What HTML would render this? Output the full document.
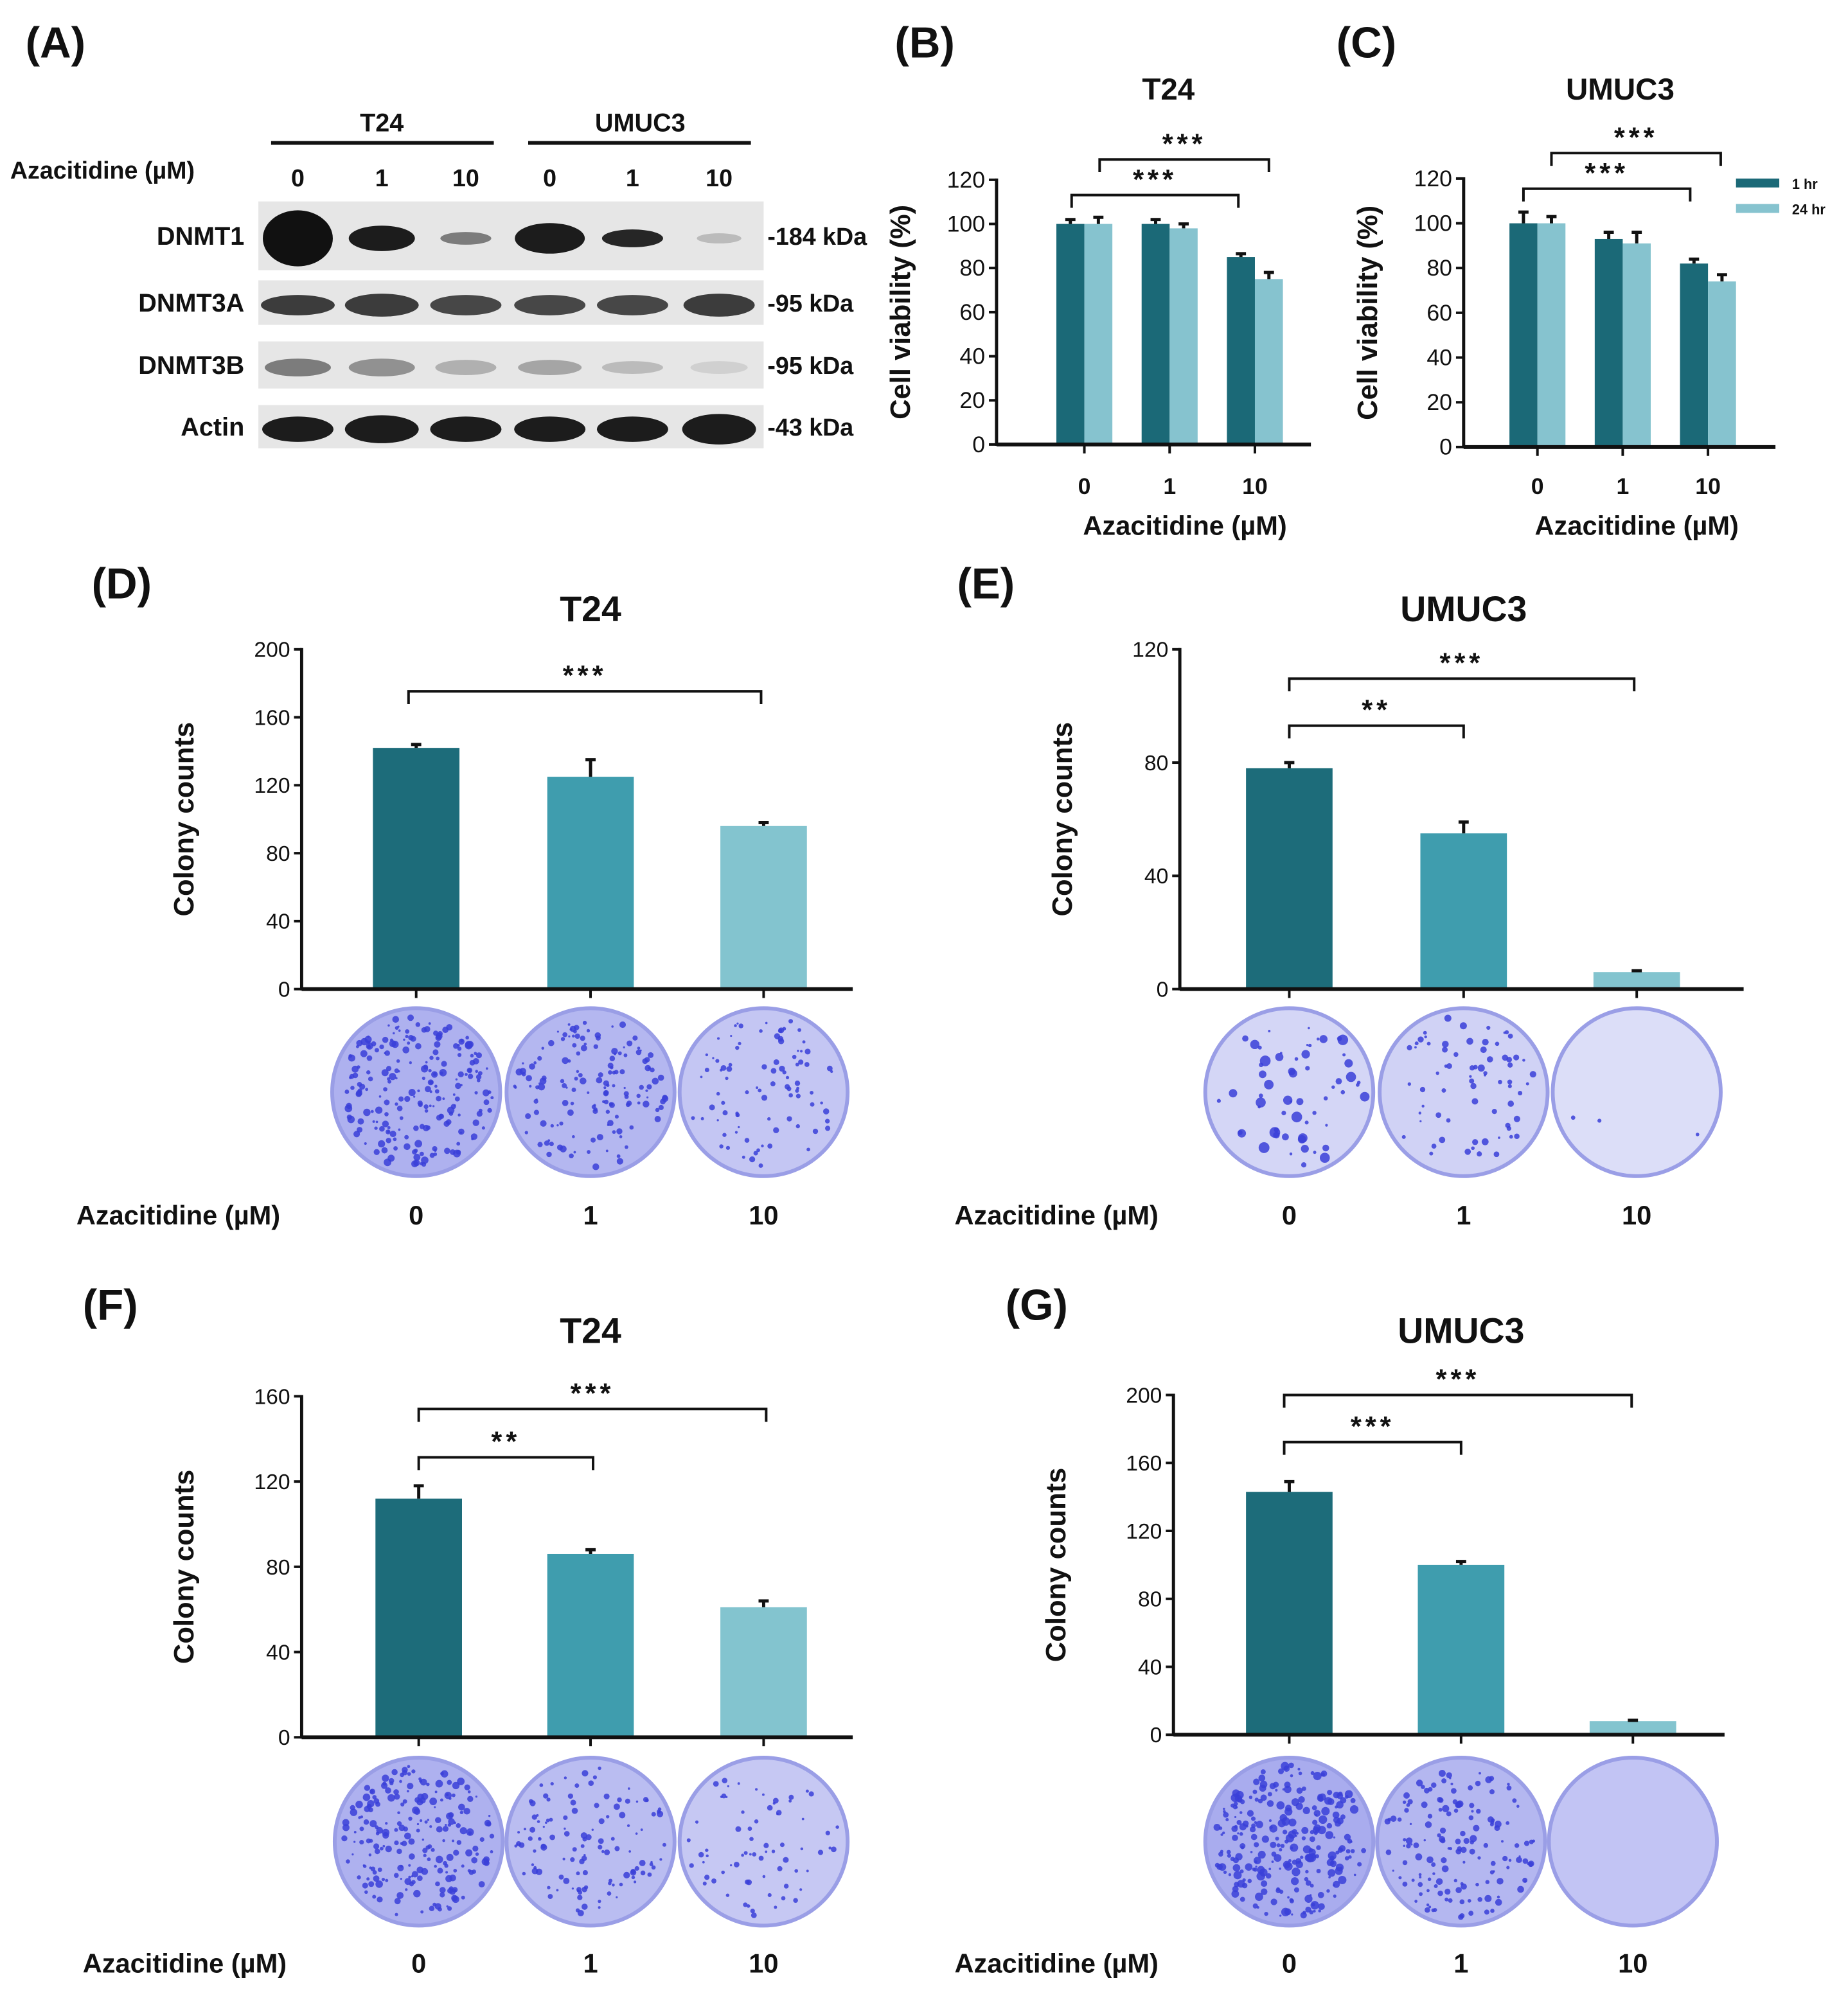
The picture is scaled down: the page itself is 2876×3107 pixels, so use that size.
<!DOCTYPE html>
<html><head><meta charset="utf-8">
<style>
html,body{margin:0;padding:0;background:#fff;}
svg{display:block;}
text{font-family:"Liberation Sans",sans-serif;fill:#111;}
</style></head>
<body>
<svg id="fig" width="2876" height="3107" viewBox="0 0 1452 1568" xmlns="http://www.w3.org/2000/svg"></svg>
<script>
// ---- Data ----
const doseLabels = ["0","1","10"];
const bTicks = [0,20,40,60,80,100,120];
const b1hr = [100,100,85];
const b1hrErr = [2,2,1.5];
const b24hr = [100,98,75];
const b24hrErr = [3,2,3];
const c1hr = [100,93,82];
const c1hrErr = [5,3,2];
const c24hr = [100,91,74];
const c24hrErr = [3,5,3];
const dTicks = [0,40,80,120,160,200];
const dVals = [142,125,96];
const dErr = [2,10,2];
const eTicks = [0,40,80,120];
const eVals = [78,55,6];
const eErr = [2,4,0.5];
const fTicks = [0,40,80,120,160];
const fVals = [112,86,61];
const fErr = [6,2,3];
const gTicks = [0,40,80,120,160,200];
const gVals = [143,100,8];
const gErr = [6,2,0.5];

const NS="http://www.w3.org/2000/svg";
const svg=document.getElementById('fig');
function mk(tag,attrs,parent){const e=document.createElementNS(NS,tag);for(const k in attrs)e.setAttribute(k,attrs[k]);(parent||svg).appendChild(e);return e;}
function txt(s,x,y,size,opts,parent){const t=mk('text',Object.assign({x:x,y:y,'font-size':size,'font-weight':'bold','text-anchor':'middle'},opts||{}),parent);t.textContent=s;return t;}

// ---- Panel labels ----
[["(A)",20,45],["(B)",703,45],["(C)",1050,45],["(D)",72,470],["(E)",752,470],["(F)",65,1037],["(G)",790,1037]].forEach(p=>{
  const t=txt(p[0],p[1],p[2],34,{'text-anchor':'start'});
  
  
});

// ---- Panel A: western blot ----
const gA=mk('g',{});


let t=txt("T24",300,103,20,{},gA);
t=txt("UMUC3",503,103,20,{},gA);
mk('line',{x1:213,y1:112,x2:388,y2:112,stroke:'#111','stroke-width':3},gA);
mk('line',{x1:415,y1:112,x2:590,y2:112,stroke:'#111','stroke-width':3},gA);
t=txt("Azacitidine (µM)",8,140,19,{'text-anchor':'start'},gA);
const laneX=[234,300,366,432,497,565];
const laneLbl=["0","1","10","0","1","10"];
laneLbl.forEach((s,i)=>{const l=txt(s,laneX[i],146,19,{},gA);});
const rows=[
 {name:"DNMT1",y:158,h:54,kda:"-184 kDa",bands:[[1,22,55],[0.95,10,52],[0.5,5,40],[0.95,12,55],[0.9,7,48],[0.2,4,35]]},
 {name:"DNMT3A",y:220,h:35,kda:"-95 kDa",bands:[[0.8,8,58],[0.8,9,58],[0.75,8,56],[0.75,8,56],[0.75,8,56],[0.8,9,56]]},
 {name:"DNMT3B",y:268,h:37,kda:"-95 kDa",bands:[[0.5,7,52],[0.4,7,52],[0.25,6,48],[0.3,6,50],[0.2,5,48],[0.1,5,45]]},
 {name:"Actin",y:318,h:34,kda:"-43 kDa",bands:[[0.95,10,56],[0.95,11,58],[0.95,10,56],[0.95,10,56],[0.95,10,56],[0.95,12,58]]}
];
rows.forEach(r=>{
  const bg=mk('rect',{x:203,y:r.y,width:397,height:r.h,fill:'#e6e6e6'},gA);
  
  const l=txt(r.name,192,r.y+r.h/2+7,20,{'text-anchor':'end'},gA);
  
  const k=txt(r.kda,603,r.y+r.h/2+7,19,{'text-anchor':'start'},gA);
  
  r.bands.forEach((b,i)=>{
    const e=mk('ellipse',{cx:laneX[i],cy:r.y+r.h/2+2,rx:b[2]/2,ry:b[1],fill:'#111','fill-opacity':b[0]},gA);
    
  });
});

// ---- Generic axis helper ----
function yScale(y0,yTop,maxV){return v=>y0-(v/maxV)*(y0-yTop);}
function drawAxes(g,x0,xEnd,y0,ys,ticks,groupX,title,ytitleX,fs){
  const ax=mk('line',{x1:x0,y1:ys(ticks[ticks.length-1])-1,x2:x0,y2:y0+1,stroke:'#111','stroke-width':2.5},g);
  
  const xa=mk('line',{x1:x0,y1:y0,x2:xEnd,y2:y0,stroke:'#111','stroke-width':3},g);
  
  ticks.forEach(v=>{
    mk('line',{x1:x0-6,y1:ys(v),x2:x0,y2:ys(v),stroke:'#111','stroke-width':2},g);
    const tl=txt(String(v),x0-9,ys(v)+6,fs,{'text-anchor':'end','font-weight':'normal'},g);
    
  });
  groupX.forEach(x=>mk('line',{x1:x,y1:y0,x2:x,y2:y0+7,stroke:'#111','stroke-width':2},g));
  const yt=txt(title,0,0,22,{transform:`translate(${ytitleX},${(ys(ticks[ticks.length-1])+y0)/2}) rotate(-90)`},g);
  
}
function bar(g,x,w,ys,v,err,color,name){
  const y0=ys(0);
  const r=mk('rect',{x:x,y:ys(v),width:w,height:y0-ys(v),fill:color},g);
  
  const eb=mk('path',{d:`M${x+w/2},${ys(v)} V${ys(v+err)} M${x+w/2-4},${ys(v+err)} H${x+w/2+4}`,stroke:'#111','stroke-width':2.5,fill:'none'},g);
  
}
function bracket(g,x1,x2,y,stars,tick){
  const p=mk('path',{d:`M${x1},${y+tick} V${y} H${x2} V${y+tick}`,stroke:'#111','stroke-width':2,fill:'none'},g);
  
  const s=txt(stars,(x1+x2)/2,y-5,22,{'letter-spacing':'3'},g);
  
}

// ---- Panels B & C ----
function viability(cfg){
  const g=mk('g',{});
  
  
  const ys=yScale(cfg.y0,cfg.yTop,120);
  const tt=txt(cfg.title,cfg.titleX,78,24,{},g);
  cfg.a.forEach((v,i)=>bar(g,cfg.gx[i]-22,22,ys,v,cfg.ae[i],'#1b6977','bar-1hr'));
  cfg.b.forEach((v,i)=>bar(g,cfg.gx[i],22,ys,v,cfg.be[i],'#86c3cf','bar-24hr'));
  drawAxes(g,cfg.x0,cfg.xEnd,cfg.y0,ys,bTicks,cfg.gx,"Cell viability (%)",cfg.x0-68,18);
  doseLabels.forEach((s,i)=>{const l=txt(s,cfg.gx[i],388,18,{},g);});
  const xt=txt("Azacitidine (µM)",cfg.titleX+13,420,21,{},g);
  cfg.br.forEach(b=>bracket(g,b[0],b[1],b[2],"***",10));
}
viability({name:'viability-chart-t24',title:'T24',titleX:918,x0:783,xEnd:1030,y0:349,yTop:141,gx:[852,919,986],a:b1hr,ae:b1hrErr,b:b24hr,be:b24hrErr,br:[[842,973,153],[864,997,125]]});
viability({name:'viability-chart-umuc3',title:'UMUC3',titleX:1273,x0:1150,xEnd:1395,y0:351,yTop:140,gx:[1208,1275,1342],a:c1hr,ae:c1hrErr,b:c24hr,be:c24hrErr,br:[[1197,1328,148],[1219,1352,120]]});
// legend
const lg=mk('g',{});


let le=mk('rect',{x:1364,y:140,width:34,height:7,fill:'#1b6977'},lg);
le=mk('rect',{x:1364,y:160,width:34,height:7,fill:'#86c3cf'},lg);
le=txt("1 hr",1408,148,11,{'text-anchor':'start'},lg);
le=txt("24 hr",1408,168,11,{'text-anchor':'start'},lg);

// ---- Colony dishes (decorative, seeded) ----
let seed=7;function rnd(){seed=(seed*16807)%2147483647;return seed/2147483647;}
function dish(g,cx,cy,r,n,fill,dotMax){
  const d=mk('circle',{cx:cx,cy:cy,r:r,fill:fill,stroke:'#9a9ee6','stroke-width':3},g);
  
  for(let i=0;i<n;i++){const a=rnd()*Math.PI*2,rr=Math.sqrt(rnd())*(r-6);
    mk('circle',{cx:cx+rr*Math.cos(a),cy:cy+rr*Math.sin(a),r:0.8+rnd()*dotMax,fill:'#3a3fd8','fill-opacity':0.85},g);}
}

// ---- Panels D-G ----
function colony(cfg){
  const g=mk('g',{});
  
  
  const maxV=cfg.ticks[cfg.ticks.length-1];
  const ys=yScale(cfg.y0,cfg.yTop,maxV);
  const tt=txt(cfg.title,cfg.gx[1],cfg.titleY,28,{},g);
  const cols=['#1d6c7a','#3f9dae','#83c4cf'];
  cfg.vals.forEach((v,i)=>bar(g,cfg.gx[i]-34,68,ys,v,cfg.err[i],cols[i],'bar-dose-'+doseLabels[i]));
  drawAxes(g,cfg.x0,cfg.xEnd,cfg.y0,ys,cfg.ticks,cfg.gx,"Colony counts",cfg.x0-85,17);
  cfg.br.forEach(b=>bracket(g,b[0],b[1],b[2],b[3],10));
  cfg.gx.forEach((x,i)=>dish(g,x,cfg.dishY,66,cfg.dots[i],cfg.dishFill[i],cfg.dotMax[i]));
  const al=txt("Azacitidine (µM)",cfg.azX,cfg.labY,21,{'text-anchor':'start'},g);
  doseLabels.forEach((s,i)=>{const l=txt(s,cfg.gx[i],cfg.labY,21,{},g);});
}
colony({name:'colony-chart-d-t24',title:'T24',titleY:488,ticks:dTicks,vals:dVals,err:dErr,x0:237,xEnd:670,y0:777,yTop:510,gx:[327,464,600],
  br:[[321,598,543,"***"]],dishY:858,dots:[220,150,90],dishFill:['#aeb1ef','#b4b7f0','#c4c6f3'],dotMax:[2.2,2,1.6],azX:60,labY:962});
colony({name:'colony-chart-e-umuc3',title:'UMUC3',titleY:488,ticks:eTicks,vals:eVals,err:eErr,x0:927,xEnd:1370,y0:777,yTop:510,gx:[1013,1150,1286],
  br:[[1013,1150,570,"**"],[1013,1284,533,"***"]],dishY:858,dots:[60,70,3],dishFill:['#d4d6f6','#d0d2f5','#dcdef8'],dotMax:[3.5,2,1],azX:750,labY:962});
colony({name:'colony-chart-f-t24',title:'T24',titleY:1055,ticks:fTicks,vals:fVals,err:fErr,x0:237,xEnd:670,y0:1365,yTop:1097,gx:[329,464,600],
  br:[[329,466,1145,"**"],[329,602,1107,"***"]],dishY:1447,dots:[220,120,70],dishFill:['#aeb1ef','#babdf1','#c6c8f3'],dotMax:[2.2,1.8,1.5],azX:65,labY:1550});
colony({name:'colony-chart-g-umuc3',title:'UMUC3',titleY:1055,ticks:gTicks,vals:gVals,err:gErr,x0:922,xEnd:1355,y0:1363,yTop:1096,gx:[1013,1148,1283],
  br:[[1009,1148,1133,"***"],[1009,1282,1096,"***"]],dishY:1447,dots:[260,150,0],dishFill:['#a9acee','#b4b7f0','#c2c4f4'],dotMax:[2.6,2,1],azX:750,labY:1550});
</script>
</body></html>
